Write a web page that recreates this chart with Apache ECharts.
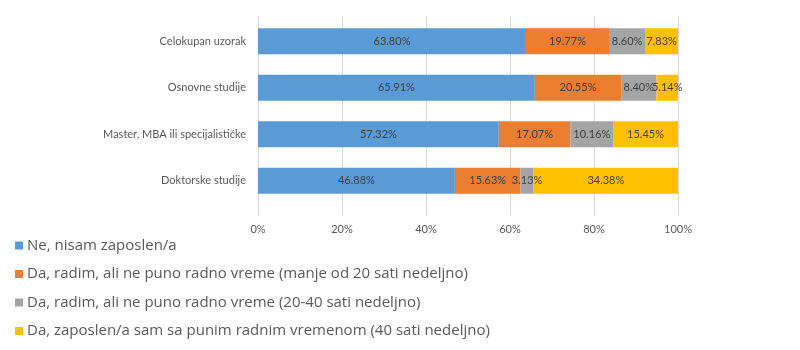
<!DOCTYPE html>
<html>
<head>
<meta charset="utf-8">
<script src="https://cdn.jsdelivr.net/npm/echarts@6/dist/echarts.min.js"></script>
<style>html,body{margin:0;padding:0;background:#fff}#c{width:800px;height:350px}</style>
</head>
<body>
<div id="c"></div>
<script>
const categories = ['Celokupan uzorak', 'Osnovne studije', 'Master, MBA ili specijalističke', 'Doktorske studije'];
const seriesNames = [
  'Ne, nisam zaposlen/a',
  'Da, radim, ali ne puno radno vreme (manje od 20 sati nedeljno)',
  'Da, radim, ali ne puno radno vreme (20-40 sati nedeljno)',
  'Da, zaposlen/a sam sa punim radnim vremenom (40 sati nedeljno)'
];
const notEmployed = [63.80, 65.91, 57.32, 46.88];
const partLess20 = [19.77, 20.55, 17.07, 15.63];
const part20to40 = [8.60, 8.40, 10.16, 3.13];
const fullTime = [7.83, 5.14, 15.45, 34.38];
const colors = ['#5B9BD5', '#ED7D31', '#A5A5A5', '#FFC000'];

const FONT = 'Lato';
const values = [notEmployed, partLess20, part20to40, fullTime];

const chart = echarts.init(document.getElementById('c'), null, {renderer: 'canvas'});
chart.setOption({
  animation: false,
  color: colors,
  textStyle: {fontFamily: FONT},
  legend: {
    orient: 'vertical',
    left: 10,
    top: 232,
    icon: 'rect',
    itemWidth: 8,
    itemHeight: 8,
    itemGap: 11.5,
    data: seriesNames,
    textStyle: {color: '#595959', fontSize: 15, fontFamily: 'Open Sans', lineHeight: 17, padding: [0, 0, 0, -1]}
  },
  grid: [
    {left: 258, right: 122, top: 16, bottom: 135},
    {left: 258, right: 122, top: 18, bottom: 146}
  ],
  xAxis: [
    {
      gridIndex: 0, type: 'value', min: 0, max: 100, interval: 20,
      axisLine: {show: false}, axisTick: {show: false},
      splitLine: {lineStyle: {color: '#D9D9D9', width: 1}},
      axisLabel: {formatter: '{value}%', color: '#595959', fontSize: 11, margin: 9, fontFamily: FONT}
    },
    {
      gridIndex: 1, type: 'value', min: 0, max: 100,
      show: false, splitLine: {show: false}
    }
  ],
  yAxis: [
    {gridIndex: 0, type: 'category', data: categories, show: false},
    {
      gridIndex: 1, type: 'category', data: categories, inverse: true,
      axisLine: {show: false}, axisTick: {show: false},
      axisLabel: {color: '#595959', fontSize: 11, margin: 12, fontFamily: FONT}
    }
  ],
  series: values.map((arr, i) => ({
    name: seriesNames[i],
    type: 'bar',
    stack: 'total',
    xAxisIndex: 1,
    yAxisIndex: 1,
    barWidth: 26,
    data: arr,
    label: {
      show: true,
      position: 'inside',
      color: '#404040',
      fontSize: 11,
      fontFamily: FONT,
      formatter: p => p.value.toFixed(2) + '%'
    }
  }))
});
</script>
</body>
</html>
